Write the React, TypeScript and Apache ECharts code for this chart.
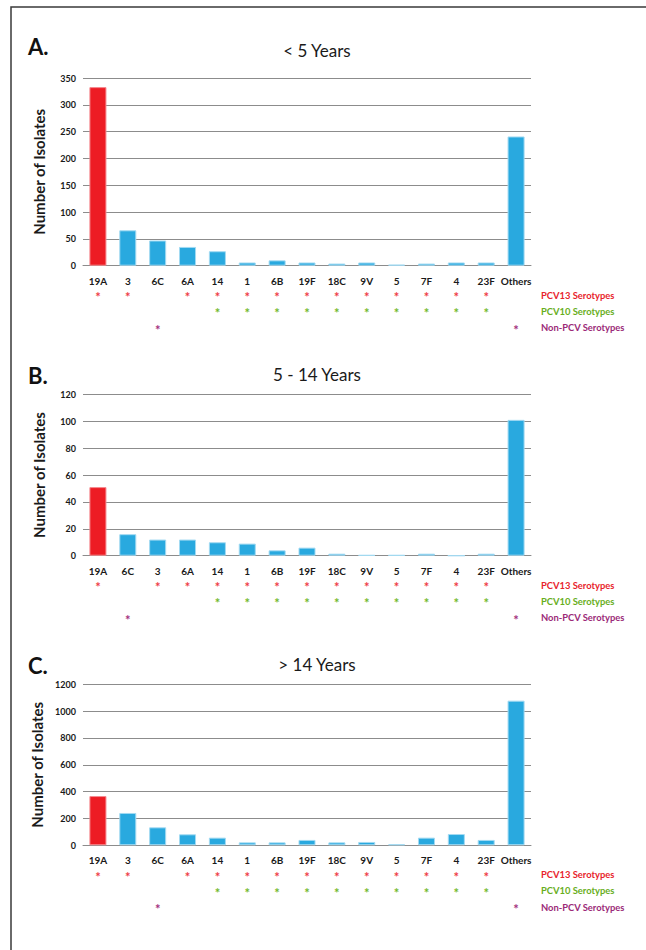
import React, { useEffect, useRef } from "react";
import * as echarts from "echarts";

const catsA = ["19A", "3", "6C", "6A", "14", "1", "6B", "19F", "18C", "9V", "5", "7F", "4", "23F", "Others"];
const valsA = [333, 66, 47, 35, 27, 6, 10, 6, 4, 6, 2, 4, 6, 6, 241];
const catsB = ["19A", "6C", "3", "6A", "14", "1", "6B", "19F", "18C", "9V", "5", "7F", "4", "23F", "Others"];
const valsB = [51, 16, 12, 12, 10, 9, 4, 6, 1.5, 0.5, 0.5, 1.5, 0, 1.5, 101];
const catsC = ["19A", "3", "6C", "6A", "14", "1", "6B", "19F", "18C", "9V", "5", "7F", "4", "23F", "Others"];
const valsC = [367, 241, 134, 82, 57, 22, 22, 40, 22, 25, 8, 57, 84, 40, 1078];

const pcv13 = ["19A", "3", "6A", "14", "1", "6B", "19F", "18C", "9V", "5", "7F", "4", "23F"];
const pcv10 = ["14", "1", "6B", "19F", "18C", "9V", "5", "7F", "4", "23F"];
const nonPcv = ["6C", "Others"];

const panelLetters = ["A.", "B.", "C."];
const panelTitles = ["< 5 Years", "5 - 14 Years", "> 14 Years"];
const yMax = [350, 120, 1200];
const yStep = [50, 20, 200];
const legendNames = ["PCV13 Serotypes", "PCV10 Serotypes", "Non-PCV Serotypes"];
const highlight = "19A";

const FONT = "Lato, 'Open Sans', sans-serif";
const RED = "#ED1C24";
const BLUE = "#29A9DF";
const rowColors = ["#EE3B45", "#72B82A", "#A3307E"];
const legendColors = ["#E8232C", "#68AE1C", "#9B2A78"];

export default function App() {
  const ref = useRef<HTMLDivElement>(null);
  useEffect(() => {
    if (!ref.current) return;
    const chart = echarts.init(ref.current, null, { renderer: "svg" });
    const panels = [
      { cats: catsA, vals: valsA },
      { cats: catsB, vals: valsB },
      { cats: catsC, vals: valsC },
    ];
    const tops = [78, 394.3, 684.3];
    const heights = [187.7, 161.4, 161];
    const groups = [pcv13, pcv10, nonPcv];
    const rowOffsets = [29.5, 45.5, 62];

    const grid: any[] = [];
    const xAxis: any[] = [];
    const yAxis: any[] = [];
    const series: any[] = [];
    const graphic: any[] = [
      {
        type: "polyline",
        shape: { points: [[11, 960], [11, 7], [646, 7]] },
        style: { fill: "none", stroke: "#3a3a3a", lineWidth: 1.5 },
        silent: true,
      },
    ];

    panels.forEach((p, i) => {
      grid.push({ left: 83, width: 448, top: tops[i], height: heights[i] });
      const base = xAxis.length;
      xAxis.push({
        type: "category",
        gridIndex: i,
        data: p.cats,
        axisLine: { show: true, lineStyle: { color: "#8c8c8c", width: 1 } },
        axisTick: { show: false },
        axisLabel: {
          interval: 0,
          margin: 15,
          verticalAlign: "middle",
          fontFamily: FONT,
          fontWeight: "bold",
          fontSize: 10,
          color: "#1a1a1a",
        },
      });
      groups.forEach((g, r) => {
        xAxis.push({
          type: "category",
          gridIndex: i,
          data: p.cats,
          position: "bottom",
          axisLine: { show: false },
          axisTick: { show: false },
          splitLine: { show: false },
          axisLabel: {
            interval: 0,
            margin: rowOffsets[r] + 2,
            verticalAlign: "middle",
            fontFamily: FONT,
            fontWeight: "bold",
            fontSize: 13,
            color: rowColors[r],
            formatter: (v: string) => (g.includes(v) ? "*" : ""),
          },
        });
      });
      yAxis.push({
        type: "value",
        gridIndex: i,
        min: 0,
        max: yMax[i],
        interval: yStep[i],
        name: "Number of Isolates",
        nameLocation: "middle",
        nameGap: 37,
        nameTextStyle: { fontFamily: FONT, fontWeight: "bold", fontSize: 15, color: "#1a1a1a" },
        axisLine: { show: false },
        axisTick: { show: false },
        splitLine: { show: true, lineStyle: { color: "#8c8c8c", width: 1 } },
        axisLabel: {
          margin: 7,
          fontFamily: FONT,
          fontWeight: "bold",
          fontSize: 9,
          color: "#1a1a1a",
          formatter: (v: number) => String(v),
        },
      });
      series.push({
        type: "bar",
        xAxisIndex: base,
        yAxisIndex: i,
        barCategoryGap: "43%",
        data: p.vals.map((v, k) => {
          const isHi = p.cats[k] === highlight;
          return {
            value: v,
            itemStyle: {
              color: isHi ? RED : BLUE,
              borderColor: isHi ? "#F58A8F" : "#A3DAF2",
              borderWidth: 1,
            },
          };
        }),
      });
      const gb = tops[i] + heights[i];
      graphic.push({
        type: "text",
        left: 28,
        top: tops[i] - (i === 0 ? 43 : 30),
        style: { text: panelLetters[i], font: `bold 22px ${FONT}`, fill: "#111" },
      });
      graphic.push({
        type: "text",
        x: 317,
        y: tops[i] - (i === 0 ? 28 : 19.5),
        style: {
          text: panelTitles[i],
          font: `17px ${FONT}`,
          fill: "#1a1a1a",
          align: "center",
          verticalAlign: "middle",
        },
      });
      legendNames.forEach((n, r) => {
        graphic.push({
          type: "text",
          x: 541,
          y: gb + rowOffsets[r],
          style: {
            text: n,
            font: `bold 9.4px ${FONT}`,
            fill: legendColors[r],
            align: "left",
            verticalAlign: "middle",
          },
        });
      });
    });

    chart.setOption({
      animation: false,
      backgroundColor: "#ffffff",
      grid,
      xAxis,
      yAxis,
      series,
      graphic,
    });
    return () => chart.dispose();
  }, []);
  return (
    <div
      ref={ref}
      style={{ position: "absolute", left: 0, top: 0, width: 646, height: 950 }}
    />
  );
}
